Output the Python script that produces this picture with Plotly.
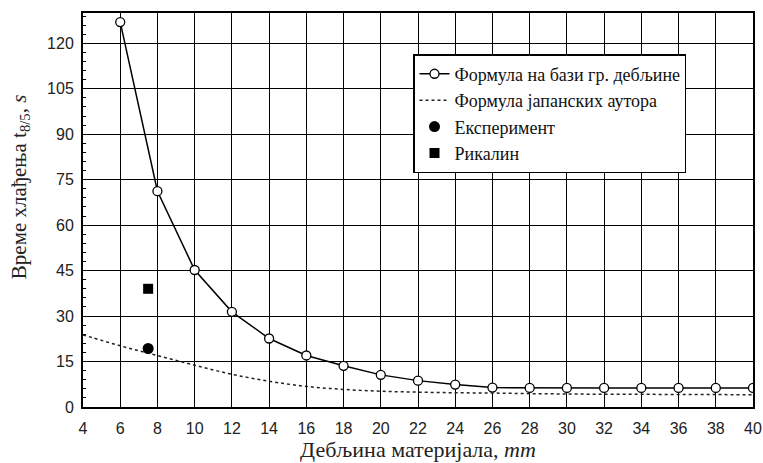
import plotly.graph_objects as go

thickness = [6, 8, 10, 12, 14, 16, 18, 20, 22, 24, 26, 28, 30, 32, 34, 36, 38, 40]
t_formula = [127, 71.2, 45.2, 31.4, 22.6, 17.0, 13.6, 10.6, 8.7, 7.4, 6.4, 6.3, 6.3, 6.3, 6.3, 6.3, 6.3, 6.3]

jp_x = [4, 6, 8, 10, 12, 14, 16, 18, 20, 22, 24, 26, 28, 30, 32, 34, 36, 38, 40]
jp_y = [23.8, 20.2, 17.0, 13.8, 10.8, 8.5, 6.8, 5.8, 5.2, 4.9, 4.7, 4.6, 4.4, 4.3, 4.2, 4.2, 4.1, 4.1, 4.0]

exp_x = [7.5]
exp_y = [19.3]
rik_x = [7.5]
rik_y = [39.0]

x_ticks = list(range(4, 41, 2))
y_ticks = [0, 15, 30, 45, 60, 75, 90, 105, 120]

SERIF = "'Times New Roman', 'Liberation Serif', serif"
SANS = "Arial, 'Liberation Sans', sans-serif"

fig = go.Figure()
fig.add_trace(go.Scatter(x=thickness, y=t_formula, mode="lines+markers",
                         name="Формула на бази гр. дебљине",
                         line=dict(color="black", width=1.5),
                         marker=dict(symbol="circle", size=9, color="white",
                                     line=dict(color="black", width=1.3))))
fig.add_trace(go.Scatter(x=jp_x, y=jp_y, mode="lines", line_shape="spline",
                         name="Формула јапанских аутора",
                         line=dict(color="#222222", width=1.5, dash="dot")))
fig.add_trace(go.Scatter(x=exp_x, y=exp_y, mode="markers", name="Експеримент",
                         marker=dict(symbol="circle", size=11, color="black")))
fig.add_trace(go.Scatter(x=rik_x, y=rik_y, mode="markers", name="Рикалин",
                         marker=dict(symbol="square", size=10, color="black")))

fig.update_layout(
    width=763, height=463,
    margin=dict(l=83, r=10, t=13, b=56, autoexpand=False),
    paper_bgcolor="white", plot_bgcolor="white",
    font=dict(family=SANS, size=14, color="#222"),
    showlegend=True,
    legend=dict(x=0.493, y=0.895, xanchor="left", yanchor="top",
                bgcolor="white", bordercolor="black", borderwidth=1.2,
                font=dict(family=SERIF, size=18, color="#111"),
                tracegroupgap=0, itemwidth=30),
    annotations=[dict(text="Време хлађења t<sub>8/5</sub>, <i>s</i>", textangle=-90,
                      xref="paper", yref="paper", x=-0.094, y=0.558,
                      xanchor="center", yanchor="middle", showarrow=False,
                      font=dict(family=SERIF, size=21, color="#222"))],
)
fig.update_xaxes(range=[4, 40], tickvals=x_ticks,
                 showgrid=True, gridcolor="black", gridwidth=1.3,
                 showline=True, linecolor="black", linewidth=2, mirror=True, ticks="",
                 tickfont=dict(size=16, family=SANS), zeroline=False, automargin=False,
                 ticklabelstandoff=6, ticklabeloverflow="allow",
                 title=dict(text="Дебљина материјала, <i>mm</i>",
                            font=dict(family=SERIF, size=22), standoff=2))
fig.update_yaxes(range=[0, 130], tickvals=y_ticks, showgrid=True, gridcolor="black", gridwidth=1.3,
                 showline=True, linecolor="black", linewidth=2, mirror=True, ticks="",
                 tickfont=dict(size=16, family=SANS), zeroline=False, automargin=False,
                 ticklabelstandoff=4,
                 minor=dict(dtick=3, ticks="inside", ticklen=3, tickcolor="black", showgrid=False))

fig.write_html("out.html", config={"displayModeBar": False},
               post_script="document.body.style.margin='0px';")
